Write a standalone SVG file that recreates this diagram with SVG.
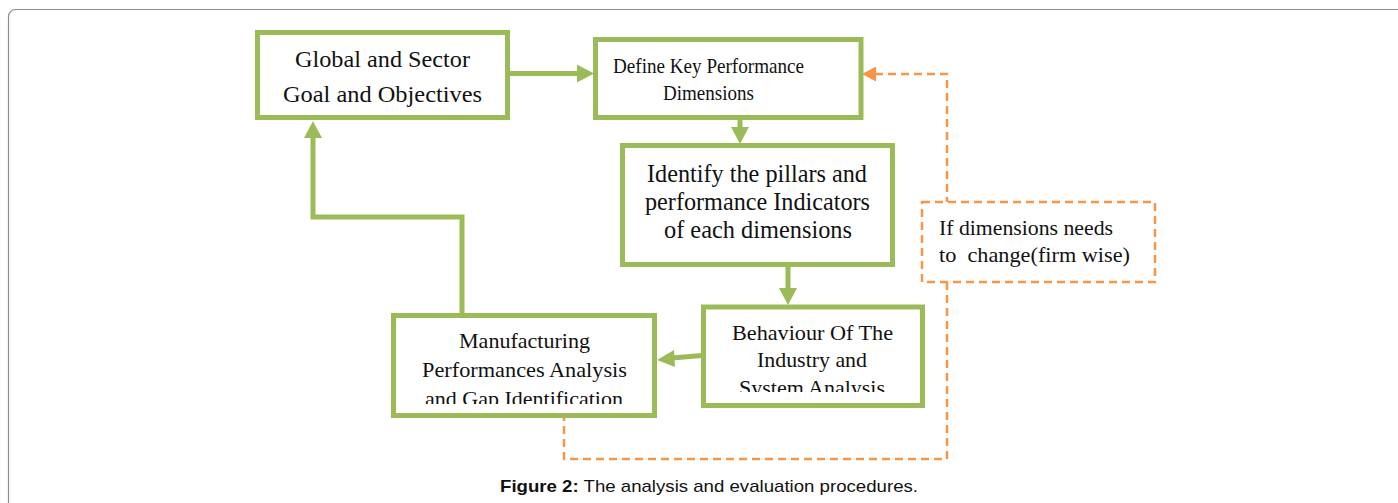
<svg xmlns="http://www.w3.org/2000/svg" width="1398" height="503" viewBox="0 0 1398 503">
<style>
.frame{fill:#fff;stroke:#8c8c8c;stroke-width:1.2}
.box{fill:#fff;stroke:#9BBB59;stroke-width:5}
.t{font-family:"Liberation Serif","Times New Roman",serif;fill:#111}
.g{fill:none;stroke:#9BBB59;stroke-width:5}
.o{fill:none;stroke:#F79646;stroke-width:2.5;stroke-dasharray:8 5}
.gh{fill:#9BBB59}
.oh{fill:#F79646}
.cap{font-family:"Liberation Sans",Arial,sans-serif;font-size:17px;fill:#111}
</style>
<defs>
<clipPath id="c4"><rect x="706" y="309" width="215" height="83"/></clipPath>
<clipPath id="c5"><rect x="396" y="318" width="256" height="86"/></clipPath>
</defs>
<rect class="frame" x="8.5" y="9.5" width="1400" height="510" rx="7"/>
<g id="connectors">
<path class="g" d="M510 73.5 H580"/>
<polygon class="gh" points="594,73.5 577,64.5 577,82.5"/>
<path class="g" d="M740 120 V129"/>
<polygon class="gh" points="740,144 731,127 749,127"/>
<path class="g" d="M788 267 V290"/>
<polygon class="gh" points="788,305 779,288 797,288"/>
<path class="g" d="M702 355.5 L672 358"/>
<polygon class="gh" points="657,360 674,350 675,367"/>
<path class="g" d="M462 313 V217 H313 V135"/>
<polygon class="gh" points="313,121 304,138 322,138"/>
<path class="o" d="M875 74 H947 V202"/>
<polygon class="oh" points="862,74 876,66.5 876,81.5"/>
<path class="o" d="M947 282 V459 H564 V418"/>
</g>
<g id="n1">
<rect class="box" x="257.5" y="32.5" width="250" height="85"/>
<text class="t" font-size="24" x="295" y="67" textLength="175" lengthAdjust="spacingAndGlyphs">Global and Sector</text>
<text class="t" font-size="24" x="283" y="102" textLength="199" lengthAdjust="spacingAndGlyphs">Goal and Objectives</text>
</g>
<g id="n2">
<rect class="box" x="595.5" y="39.5" width="265.5" height="78"/>
<text class="t" font-size="22" x="613" y="73" textLength="191" lengthAdjust="spacingAndGlyphs">Define Key Performance</text>
<text class="t" font-size="22" x="663" y="100" textLength="91" lengthAdjust="spacingAndGlyphs">Dimensions</text>
</g>
<g id="n3">
<rect class="box" x="622.5" y="145.5" width="270" height="119"/>
<text class="t" font-size="26" x="647" y="182" textLength="220" lengthAdjust="spacingAndGlyphs">Identify the pillars and</text>
<text class="t" font-size="26" x="645" y="210" textLength="225" lengthAdjust="spacingAndGlyphs">performance Indicators</text>
<text class="t" font-size="26" x="664" y="238" textLength="188" lengthAdjust="spacingAndGlyphs">of each dimensions</text>
</g>
<g id="n4">
<rect class="box" x="703.5" y="307" width="219" height="98.5"/>
<g clip-path="url(#c4)">
<text class="t" font-size="22" x="732" y="340" textLength="161" lengthAdjust="spacingAndGlyphs">Behaviour Of The</text>
<text class="t" font-size="22" x="757" y="367" textLength="110" lengthAdjust="spacingAndGlyphs">Industry and</text>
<text class="t" font-size="22" x="739" y="395" textLength="146" lengthAdjust="spacingAndGlyphs">System Analysis</text>
</g>
</g>
<g id="n5">
<rect class="box" x="393.5" y="315.5" width="261" height="100"/>
<g clip-path="url(#c5)">
<text class="t" font-size="22" x="459" y="348" textLength="131" lengthAdjust="spacingAndGlyphs">Manufacturing</text>
<text class="t" font-size="22" x="422" y="377" textLength="205" lengthAdjust="spacingAndGlyphs">Performances Analysis</text>
<text class="t" font-size="22" x="425" y="406" textLength="198" lengthAdjust="spacingAndGlyphs">and Gap Identification</text>
</g>
</g>
<g id="n6">
<rect class="o" x="922" y="202" width="233" height="80" fill="#fff"/>
<text class="t" font-size="21" x="939" y="235" textLength="174" lengthAdjust="spacingAndGlyphs">If dimensions needs</text>
<text class="t" font-size="21" x="939" y="262" textLength="191" lengthAdjust="spacingAndGlyphs" xml:space="preserve">to  change(firm wise)</text>
</g>
<g id="caption">
<text class="cap" x="500" y="492" textLength="418" lengthAdjust="spacingAndGlyphs"><tspan font-weight="bold">Figure 2:</tspan> The analysis and evaluation procedures.</text>
</g>
</svg>
